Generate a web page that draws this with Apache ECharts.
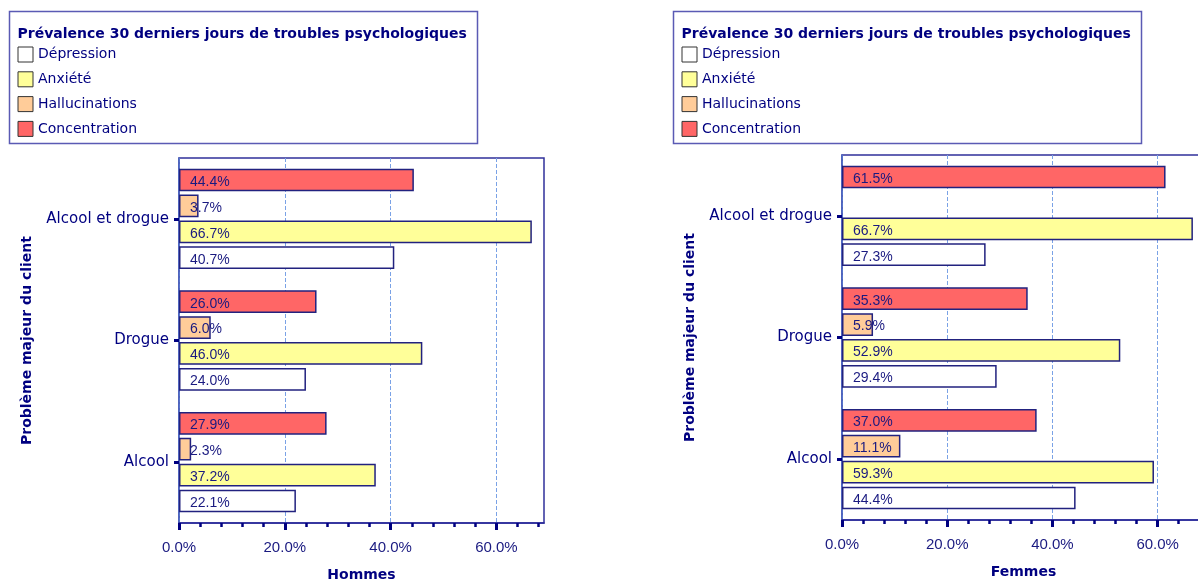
<!DOCTYPE html>
<html><head><meta charset="utf-8">
<script src="https://cdn.jsdelivr.net/npm/echarts@6/dist/echarts.min.js"></script>
<style>html,body{margin:0;padding:0;background:#fff}#c{width:1198px;height:581px}</style>
</head><body><div id="c"></div>
<script>
// ---- data ----
const categories = ['Alcool', 'Drogue', 'Alcool et drogue'];
const seriesNames = ['Dépression', 'Anxiété', 'Hallucinations', 'Concentration'];
const hommesDepression = [22.1, 24.0, 40.7];
const hommesAnxiete = [37.2, 46.0, 66.7];
const hommesHallucinations = [2.3, 6.0, 3.7];
const hommesConcentration = [27.9, 26.0, 44.4];
const femmesDepression = [44.4, 29.4, 27.3];
const femmesAnxiete = [59.3, 52.9, 66.7];
const femmesHallucinations = [11.1, 5.9, null];
const femmesConcentration = [37.0, 35.3, 61.5];
const xMajorTicks = [0, 20, 40, 60];
const xMinorTicks = [4, 8, 12, 16, 24, 28, 32, 36, 44, 48, 52, 56, 64, 68];
const legendTitle = 'Prévalence 30 derniers jours de troubles psychologiques';
const yAxisTitle = 'Problème majeur du client';
const panelTitles = ['Hommes', 'Femmes'];

// ---- styles ----
const NAVY = '#000080';
const fills = ['#FFFFFF', '#FFFF99', '#FFCC99', '#FF6666'];
const comic = 'DejaVu Sans';
const arial = "'Liberation Sans', Arial, sans-serif";

const chart = echarts.init(document.getElementById('c'), null, {renderer: 'canvas'});

const grids = [
  {left: 179, top: 158, width: 365, height: 365},
  {left: 842, top: 155, width: 363, height: 365}
];

function mainX(i) {
  return {
    type: 'value', gridIndex: i, min: 0, max: 69, interval: 20,
    name: panelTitles[i], nameLocation: 'middle', nameGap: 45,
    nameTextStyle: {fontFamily: comic, fontWeight: 'bold', fontSize: 14, color: NAVY},
    axisLine: {show: true, lineStyle: {color: '#2a2a9a', width: 1.5}},
    axisTick: {show: true, customValues: xMajorTicks, length: 7, inside: false, lineStyle: {color: NAVY, width: 3}},
    axisLabel: {customValues: xMajorTicks, margin: 17, fontFamily: arial, fontSize: 15, color: '#1a1a80',
      formatter: v => v.toFixed(1) + '%'},
    splitLine: {show: true, lineStyle: {color: '#7aa2e6', type: 'dashed', width: 1}}
  };
}
function minorX(i) {
  return {
    type: 'value', gridIndex: i, min: 0, max: 69, position: 'bottom',
    axisLine: {show: false},
    axisTick: {show: true, customValues: xMinorTicks, length: 4, lineStyle: {color: NAVY, width: 2.5}},
    axisLabel: {show: false},
    splitLine: {show: false}
  };
}
function yAx(i) {
  return {
    type: 'category', gridIndex: i, data: categories,
    name: yAxisTitle, nameLocation: 'middle', nameGap: 145, nameRotate: 90,
    nameTextStyle: {fontFamily: comic, fontWeight: 'bold', fontSize: 14, color: NAVY},
    axisLine: {show: true, lineStyle: {color: '#4a64c0', width: 1.5}},
    axisTick: {show: true, alignWithLabel: true, length: 5, lineStyle: {color: NAVY, width: 3}},
    axisLabel: {margin: 10, fontFamily: comic, fontSize: 15, color: NAVY},
    splitLine: {show: false}
  };
}

const panels = [
  [hommesDepression, hommesAnxiete, hommesHallucinations, hommesConcentration],
  [femmesDepression, femmesAnxiete, femmesHallucinations, femmesConcentration]
];

// series are pushed top-to-bottom (Concentration first) so Dépression sits lowest in each group
const series = [];
panels.forEach((vals, g) => {
  for (let k = vals.length - 1; k >= 0; k--) {
    series.push({
      type: 'bar', name: seriesNames[k], xAxisIndex: g * 2, yAxisIndex: g,
      data: vals[k], barCategoryGap: '17.5%', barGap: '14%',
      itemStyle: {color: fills[k], borderColor: '#22227f', borderWidth: 1.5},
      label: {show: true, position: 'insideLeft', distance: 11, offset: [0, 2],
        fontFamily: arial, fontSize: 14, color: '#1a1a80',
        formatter: p => (p.value == null ? '' : p.value.toFixed(1) + '%')},
      emphasis: {disabled: true},
      animation: false
    });
  }
});

const legendBox = [9.5, 673.5];
const option = {
  backgroundColor: '#ffffff',
  animation: false,
  grid: grids.map(g => Object.assign({show: true, borderColor: '#30309a', borderWidth: 1.5,
    backgroundColor: 'transparent', containLabel: false, outerBoundsMode: 'none'}, g)),
  xAxis: [mainX(0), minorX(0), mainX(1), minorX(1)],
  yAxis: [yAx(0), yAx(1)],
  title: legendBox.map(x => ({
    text: legendTitle, left: x + 8, top: 27, padding: 0,
    textStyle: {fontFamily: comic, fontWeight: 'bold', fontSize: 14, color: NAVY}
  })),
  legend: legendBox.map(x => ({
    data: seriesNames, orient: 'vertical', left: x + 8, top: 46.5, padding: 0,
    itemWidth: 15, itemHeight: 15, itemGap: 8.8, icon: 'rect',
    itemStyle: {borderColor: '#333333', borderWidth: 1},
    textStyle: {fontFamily: comic, fontSize: 14, lineHeight: 15, color: NAVY},
    selectedMode: false
  })),
  graphic: legendBox.map(x => ({
    type: 'rect', shape: {x: x, y: 11.5, width: 468, height: 132},
    style: {fill: 'none', stroke: '#5a5ab4', lineWidth: 1.5}, z: 10
  })),
  series: series
};
chart.setOption(option);
</script>
</body></html>
